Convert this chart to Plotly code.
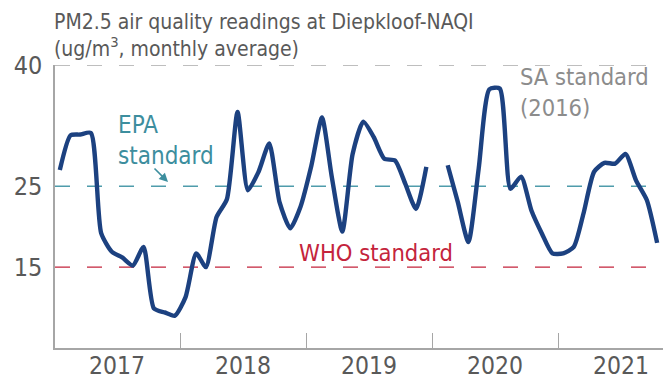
import pandas as pd
import plotly.graph_objects as go

# Monthly average PM2.5 at Diepkloof-NAQI (ug/m3); Jan 2020 not recorded
pm25_2017 = [27.0, 31.3, 31.4, 31.6, 19.2, 16.9, 16.2, 15.2, 17.5, 9.9, 9.4, 9.0]
pm25_2018 = [11.3, 16.7, 15.0, 21.2, 23.4, 34.2, 24.5, 26.8, 30.3, 23.0, 19.8, 22.5]
pm25_2019 = [27.5, 33.5, 26.3, 19.4, 29.0, 33.0, 31.1, 28.4, 28.2, 25.3, 22.2, 27.4]
pm25_2020 = [None, 27.6, 23.1, 18.1, 27.2, 37.0, 37.1, 24.7, 26.2, 22.0, 19.1, 16.7]
pm25_2021 = [16.7, 17.5, 21.6, 26.8, 27.9, 27.8, 29.0, 25.7, 23.3, 18.0]

pm25 = pm25_2017 + pm25_2018 + pm25_2019 + pm25_2020 + pm25_2021
months = pd.date_range("2017-01-01", periods=len(pm25), freq="MS") + pd.Timedelta(days=14)

# Year labels sit mid-year; tick marks sit on year boundaries
years = ["2017", "2018", "2019", "2020", "2021"]

# Reference standards (ug/m3)
who_standard = 15
epa_standard = 25
sa_standard = 40
y_ticks = [15, 25, 40]

FONT = "DejaVu Sans Condensed, DejaVu Sans, sans-serif"
GREY_TEXT = "#595959"
AXIS_GREY = "#a6a6a6"
LINE_BLUE = "#1c4180"
TEAL = "#3d8e9e"
RED = "#c4243c"
SA_GREY = "#8c8c8c"

fig = go.Figure()
fig.add_trace(go.Scatter(
    x=months, y=pm25, mode="lines",
    line=dict(color=LINE_BLUE, width=4.4, shape="spline", smoothing=0.6),
    connectgaps=False, hoverinfo="x+y",
))

# Dashed horizontal lines for each standard
for level, colour in [(sa_standard, "#a9a9a9"), (epa_standard, "#4f9cab"), (who_standard, RED)]:
    fig.add_shape(type="line", xref="paper", x0=0, x1=0.975, yref="y", y0=level, y1=level,
                  line=dict(color=colour, width=1.4, dash="15px,17px"), layer="below")

# Plot-area geometry used to place the text labels
L, R, T, B = 55, 663, 65, 348


def px(x):
    return (x - L) / (R - L)


def py(y):
    return (B - y) / (B - T)


fig.add_annotation(text="PM2.5 air quality readings at Diepkloof-NAQI<br>(ug/m<sup>3</sup>, monthly average)",
                   xref="paper", yref="paper", x=px(52), y=py(8), xanchor="left", yanchor="top",
                   align="left", showarrow=False,
                   font=dict(family=FONT, size=21, color=GREY_TEXT))
fig.add_annotation(text="EPA<br>standard", xref="paper", yref="paper", x=px(116), y=py(140),
                   xanchor="left", yanchor="middle", align="left", showarrow=False,
                   font=dict(family=FONT, size=24, color=TEAL))
fig.add_annotation(text="", xref="paper", yref="paper", x=px(168), y=py(182),
                   ax=-15, ay=-15, showarrow=True, arrowhead=2, arrowsize=1.1,
                   arrowwidth=1.6, arrowcolor=TEAL)
fig.add_annotation(text="SA standard<br>(2016)", xref="paper", yref="paper", x=px(518), y=py(92),
                   xanchor="left", yanchor="middle", align="left", showarrow=False,
                   font=dict(family=FONT, size=23.5, color=SA_GREY))
fig.add_annotation(text="WHO standard", xref="paper", yref="paper", x=px(376), y=py(253),
                   xanchor="center", yanchor="middle", showarrow=False,
                   font=dict(family=FONT, size=23.5, color=RED))

for yr in years:
    fig.add_annotation(text=yr, xref="x", yref="paper", x=f"{yr}-07-01", y=py(365),
                       xanchor="center", yanchor="middle", showarrow=False,
                       font=dict(family=FONT, size=24.5, color=GREY_TEXT))

fig.update_layout(
    width=672, height=377,
    margin=dict(l=L, r=672 - R, t=T, b=377 - B, autoexpand=False),
    paper_bgcolor="white", plot_bgcolor="white",
    showlegend=False,
    font=dict(family=FONT, color=GREY_TEXT),
)
fig.update_xaxes(
    type="date", range=["2017-01-01", "2021-11-01"], automargin=False,
    dtick="M12", tick0="2017-01-01", showticklabels=False,
    ticks="inside", ticklen=15, tickwidth=1.3, tickcolor=AXIS_GREY,
    showline=True, linecolor=AXIS_GREY, linewidth=1.5,
    showgrid=False, zeroline=False,
)
fig.update_yaxes(
    range=[5, 40], tickvals=y_ticks, ticks="", automargin=False,
    showline=True, linecolor=AXIS_GREY, linewidth=1.5,
    showgrid=False, zeroline=False, ticklabelstandoff=6,
    tickfont=dict(family=FONT, size=25, color=GREY_TEXT),
)

fig.write_html("out.html")
